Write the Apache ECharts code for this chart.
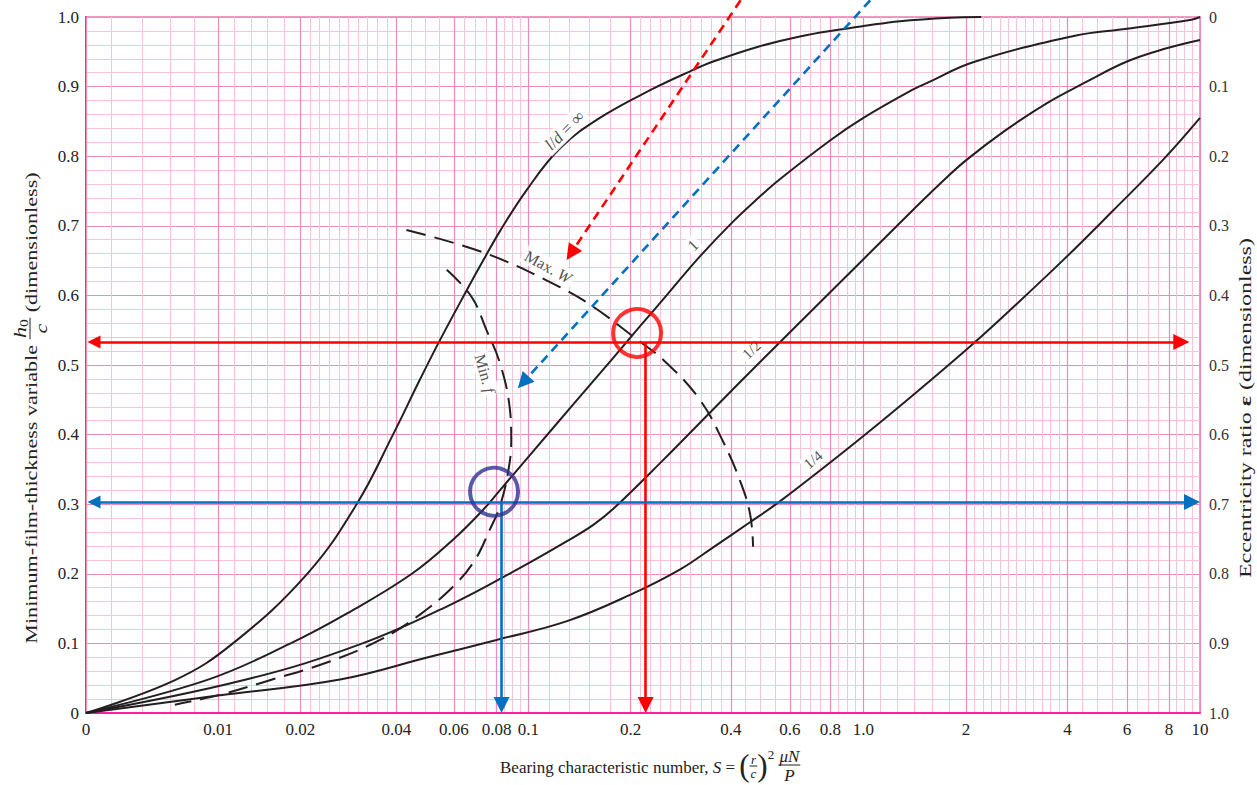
<!DOCTYPE html>
<html><head><meta charset="utf-8">
<script src="https://cdn.jsdelivr.net/npm/echarts@6/dist/echarts.min.js"></script>
<style>html,body{margin:0;padding:0;background:#fff}#c{width:1257px;height:785px}</style>
</head><body><div id="c"></div>
<script>
// ---------- X axis (Raimondi–Boyd style log-like scale) ----------
const X_TICK_S = [0,0.01,0.02,0.04,0.06,0.08,0.1,0.2,0.4,0.6,0.8,1,2,4,6,8,10];
const X_TICK_LABELS = ['0','0.01','0.02','0.04','0.06','0.08','0.1','0.2','0.4','0.6','0.8','1.0','2','4','6','8','10'];
const SCALE_S   = [0,0.002,0.004,0.006,0.008,0.01,0.02,0.04,0.06,0.08,0.1,0.2,0.4,0.6,0.8,1,2,4,6,8,10];
const SCALE_POS = [0,25.4,56.0,84.0,108.0,132.0,214.4,310.4,367.7,410.4,442.2,544.4,644.7,703.7,744.2,777.2,879.7,981.2,1040.7,1082.7,1113.7];
const GRID_DIV  = [1,1,1,1,1,5,10,4,4,4,5,10,4,4,4,6,12,4,4,4];

// ---------- Y ticks ----------
const Y_MIN = 0, Y_MAX = 1, Y_STEP = 0.1;

// ---------- Curves (S, h0/c) ----------
const INF_S = [0,0.0065,0.0118,0.021,0.030,0.039,0.0471,0.0543,0.0654,0.0731,0.0819,0.0987,0.1238,0.1624,0.2338,0.302,0.354,0.48,0.644,0.853,1.0,1.28,1.8,2.22];
const INF_H = [0,0.048,0.1,0.2,0.3,0.4,0.478,0.535,0.607,0.650,0.692,0.751,0.811,0.855,0.897,0.922,0.936,0.957,0.972,0.982,0.987,0.994,0.999,1.0];

const ONE_S = [0,0.00917,0.0188,0.028,0.0446,0.06,0.0731,0.0819,0.1033,0.1354,0.1776,0.213,0.2565,0.323,0.406,0.488,0.56,0.8,1.0,1.401,1.55,2.1,4.21,6.0,9.4,10];
const ONE_H = [0,0.048,0.1,0.143,0.2,0.25,0.292,0.320,0.376,0.443,0.510,0.555,0.600,0.656,0.706,0.742,0.767,0.823,0.855,0.896,0.906,0.935,0.973,0.983,0.996,1.0];

const HALF_S = [0,0.0134,0.0313,0.06,0.0923,0.13,0.155,0.1776,0.25,0.35,0.5,0.7,1.0,1.4,1.7,2.0,2.6,3.47,4.56,6.0,7.87,10];
const HALF_H = [0,0.048,0.1,0.158,0.206,0.247,0.270,0.293,0.363,0.434,0.509,0.578,0.652,0.723,0.763,0.794,0.836,0.876,0.907,0.936,0.955,0.967];

const QUARTER_S = [0,0.01,0.0266,0.05,0.08,0.13,0.2,0.281,0.354,0.456,0.56,0.76,1.0,1.4,2.06,2.76,3.89,5.46,7.69,10];
const QUARTER_H = [0,0.025,0.048,0.08,0.105,0.132,0.17,0.206,0.238,0.274,0.304,0.352,0.398,0.457,0.527,0.583,0.651,0.722,0.795,0.855];

const MAXW_S = [0.0429,0.0748,0.1238,0.155,0.2036,0.2565,0.323,0.379,0.425,0.456,0.466];
const MAXW_H = [0.694,0.660,0.612,0.584,0.541,0.503,0.45,0.39,0.335,0.287,0.239];

const MINF_S = [0.0571,0.0676,0.0748,0.0819,0.0877,0.0887,0.0867,0.0819,0.0764,0.0692,0.0604,0.0471,0.0355,0.0247,0.0157,0.0102,0.0064];
const MINF_H = [0.637,0.598,0.55,0.503,0.44,0.392,0.345,0.297,0.263,0.22,0.184,0.141,0.105,0.074,0.045,0.026,0.012];

// ---------- Curve labels ----------
const LABEL_TEXT = ['{i|l}/{i|d} = ∞','1','1/2','1/4','Max. {i|W}','Min. {i|f}'];
const LABEL_S = [0.128,0.308,0.461,0.708,0.1144,0.074];
const LABEL_H = [0.837,0.672,0.522,0.364,0.641,0.488];

// ---------- Worked-example overlay ----------
const RED_LINE_H = 0.533, RED_LINE_S = [0, 9.26], RED_DROP_S = 0.222;
const BLUE_LINE_H = 0.303, BLUE_LINE_S = [0, 10], BLUE_DROP_S = 0.0829;
const RED_POINT = [0.2093, 0.546];
const BLUE_POINT = [0.0787, 0.318];
const RED_GUIDE = [[0.4276, 1.024], [0.1296, 0.651]];
const BLUE_GUIDE = [[1.047, 1.024], [0.0929, 0.4666]];

// ---------- styles ----------
const LABEL_ROT = [45,45,43,40,-29,-74];
const LABEL_SIZE = [17,16,15,15,16,16];

// ---------- scale mapping ----------
function sToU(s){
  if (s <= 0) return 0;
  for (let i = 0; i < SCALE_S.length - 1; i++){
    const a = SCALE_S[i], b = SCALE_S[i+1];
    if (s <= b || i === SCALE_S.length - 2){
      const t = (a >= 0.02) ? Math.log(s/a)/Math.log(b/a) : (s-a)/(b-a);
      return SCALE_POS[i] + t*(SCALE_POS[i+1]-SCALE_POS[i]);
    }
  }
}
const U_MAX = SCALE_POS[SCALE_POS.length-1];
const MAJOR_U = X_TICK_S.map(sToU);
const MINOR_U = [];
for (let i = 0; i < SCALE_S.length - 1; i++){
  const a = SCALE_POS[i], b = SCALE_POS[i+1];
  if (i > 0 && MAJOR_U.every(m => Math.abs(m - a) > 0.01)) MINOR_U.push(a);
  for (let k = 1; k < GRID_DIV[i]; k++) MINOR_U.push(a + (b-a)*k/GRID_DIV[i]);
}
const pts = (S, H) => S.map((s, i) => [sToU(s), H[i]]);

// ---------- text layout helpers for titles ----------
const FONT = '"Liberation Serif", "Times New Roman", serif';
const ctx = document.createElement('canvas').getContext('2d');
function fstr(s){ return (s.style||'normal') + ' normal ' + (s.weight||'normal') + ' ' + s.size + 'px ' + FONT; }
function tw(s){ ctx.font = fstr(s); return ctx.measureText(s.t).width; }
function runW(run){ return run.reduce((a, s) => a + tw(s), 0); }
function emitRun(run, x, y, out, color){
  run.forEach(s => {
    out.push({type:'text', x: x, y: y + (s.dy||0), silent:true,
      style:{text:s.t, font:fstr(s), fill:color, align:'left', verticalAlign:'middle', textAlign:'left', textVerticalAlign:'middle'}});
    x += tw(s);
  });
}
function buildLine(items, color){
  const out = []; let x = 0;
  items.forEach(it => {
    if (it.num){
      const wn = runW(it.num), wd = runW(it.den), w = Math.max(wn, wd) + 2;
      emitRun(it.num, x + (w-wn)/2, it.numY, out, color);
      emitRun(it.den, x + (w-wd)/2, it.denY, out, color);
      out.push({type:'line', silent:true, shape:{x1:x, y1:it.barY, x2:x+w, y2:it.barY}, style:{stroke:color, lineWidth:1}});
      x += w;
    } else { emitRun(it.run, x, 0, out, color); x += runW(it.run); }
  });
  return {out, width:x};
}
const TXT = '#222';
const bottomTitle = buildLine([
  {run:[{t:'Bearing characteristic number, ', size:17},{t:'S', size:17, style:'italic'},{t:' = ', size:17}]},
  {run:[{t:'(', size:31, dy:-2}]},
  {num:[{t:'r', size:13, style:'italic'}], den:[{t:'c', size:13, style:'italic'}], numY:-8, denY:6, barY:-1},
  {run:[{t:')', size:31, dy:-2}]},
  {run:[{t:'2', size:13, dy:-13},{t:' ', size:17}]},
  {num:[{t:'μN', size:17, style:'italic'}], den:[{t:'P', size:17, style:'italic'}], numY:-11, denY:8, barY:-2}
], TXT);
const leftTitle = buildLine([
  {run:[{t:'Minimum-film-thickness variable ', size:17}]},
  {num:[{t:'h', size:17, style:'italic'},{t:'0', size:12, dy:4}], den:[{t:'c', size:17, style:'italic'}], numY:-11, denY:10, barY:-1},
  {run:[{t:' (dimensionless)', size:17}]}
], TXT);
const rightTitle = buildLine([
  {run:[{t:'Eccentricity ratio ', size:16},{t:'ε', size:16, weight:'bold'},{t:' (dimensionless)', size:16}]}
], TXT);
function centered(t){ t.out.forEach(e => { if (e.type === 'text') e.x -= t.width/2; else { e.shape.x1 -= t.width/2; e.shape.x2 -= t.width/2; } }); return t.out; }

// ---------- chart ----------
const chart = echarts.init(document.getElementById('c'), null, {renderer:'svg'});
const GRID_H_PX = 785 - 17 - 72;
const MAJOR_GRID = '#f08ab8', MINOR_GRID = '#f9c4da', AXIS_PINK = '#ff1f9b';
const curveStyle = {color:'#231f20', width:2};
function curve(name, S, H, dashed){
  return {type:'line', name, data:pts(S,H), showSymbol:false, symbol:'none', smooth:0.4, silent:true, z:3,
    lineStyle: dashed ? Object.assign({}, curveStyle, {type:[20,9]}) : curveStyle};
}
// trims the end(s) of a segment so an arrow head's tip lands on the given point
function arrowCoords(p0, p1, t0, t1){
  const a = [sToU(p0[0]), p0[1]*GRID_H_PX], b = [sToU(p1[0]), p1[1]*GRID_H_PX];
  const dx = b[0]-a[0], dy = b[1]-a[1], L = Math.hypot(dx, dy), ux = dx/L, uy = dy/L;
  return [[a[0]+ux*t0, (a[1]+uy*t0)/GRID_H_PX], [b[0]-ux*t1, (b[1]-uy*t1)/GRID_H_PX]];
}
const HEAD = 16;
function arrow(name, p0, p1, color, both, dashed){
  return {type:'lines', name, coordinateSystem:'cartesian2d', xAxisIndex:0, yAxisIndex:0, clip:false, silent:true, z:5,
    symbol: both ? ['triangle','triangle'] : ['none','triangle'], symbolSize:[13,HEAD],
    lineStyle:{color, width:2.6, opacity:1, type: dashed ? [9,6] : 'solid', curveness:0},
    itemStyle:{color},
    data:[{coords: arrowCoords(p0, p1, both ? HEAD/2 : 0, HEAD/2)}]};
}
const yFmt = v => (Math.abs(v) < 1e-9 ? '0' : v.toFixed(1));

const option = {
  animation:false,
  backgroundColor:'#fff',
  textStyle:{fontFamily:FONT},
  grid:{left:86, right:57, top:17, bottom:72, show:true, borderColor:'#f07ab0', borderWidth:1.5, backgroundColor:'transparent'},
  xAxis:[
    {type:'value', min:0, max:U_MAX, position:'bottom',
      axisLine:{show:true, onZero:false, lineStyle:{color:AXIS_PINK, width:2}},
      axisTick:{show:false, customValues:MAJOR_U},
      axisLabel:{customValues:MAJOR_U, margin:8, color:'#222', fontSize:17, fontFamily:FONT,
        formatter: v => { const i = MAJOR_U.findIndex(m => Math.abs(m - v) < 0.01); return i >= 0 ? X_TICK_LABELS[i] : ''; }},
      splitLine:{show:true, lineStyle:{color:MAJOR_GRID, width:1.2}}, z:2},
    {type:'value', min:0, max:U_MAX, position:'top',
      axisLine:{show:false}, axisLabel:{show:false},
      axisTick:{show:false, customValues:MINOR_U},
      splitLine:{show:true, lineStyle:{color:MINOR_GRID, width:1}}, z:1}
  ],
  yAxis:[
    {type:'value', min:Y_MIN, max:Y_MAX, interval:Y_STEP, position:'left',
      axisLine:{show:true, onZero:false, lineStyle:{color:AXIS_PINK, width:2}},
      axisTick:{show:false},
      axisLabel:{formatter:yFmt, margin:7, color:'#222', fontSize:17, fontFamily:FONT},
      splitLine:{show:true, lineStyle:{color:MAJOR_GRID, width:1.2}},
      minorTick:{show:false, splitNumber:5},
      minorSplitLine:{show:true, lineStyle:{color:MINOR_GRID, width:1}}},
    {type:'value', min:Y_MIN, max:Y_MAX, interval:Y_STEP, position:'right', inverse:true,
      axisLine:{show:false}, axisTick:{show:false}, splitLine:{show:false},
      axisLabel:{formatter:yFmt, margin:9, color:'#333', fontSize:16, fontFamily:FONT}}
  ],
  series:[
    curve('l/d = ∞', INF_S, INF_H),
    curve('1', ONE_S, ONE_H),
    curve('1/2', HALF_S, HALF_H),
    curve('1/4', QUARTER_S, QUARTER_H),
    curve('Max. W', MAXW_S, MAXW_H, true),
    curve('Min. f', MINF_S, MINF_H, true),
    {type:'scatter', name:'labels', silent:true, z:4, symbolSize:1, itemStyle:{color:'rgba(0,0,0,0)'},
      label:{show:true, position:'inside', color:'#222', fontFamily:FONT, backgroundColor:'#fff', padding:[1,3]},
      data: LABEL_TEXT.map((t, i) => ({value:[sToU(LABEL_S[i]), LABEL_H[i]],
        label:{formatter:t, rotate:LABEL_ROT[i], fontSize:LABEL_SIZE[i],
          rich:{i:{fontStyle:'italic', fontSize:LABEL_SIZE[i], fontFamily:FONT, color:'#222'}}}}))},
    arrow('red level', [RED_LINE_S[0], RED_LINE_H], [RED_LINE_S[1], RED_LINE_H], '#ff0000', true),
    arrow('red drop', [RED_DROP_S, RED_LINE_H], [RED_DROP_S, 0], '#ff0000', false),
    arrow('blue level', [BLUE_LINE_S[0], BLUE_LINE_H], [BLUE_LINE_S[1], BLUE_LINE_H], '#0070c0', true),
    arrow('blue drop', [BLUE_DROP_S, BLUE_LINE_H], [BLUE_DROP_S, 0], '#0070c0', false),
    arrow('red guide', RED_GUIDE[0], RED_GUIDE[1], '#ff0000', false, true),
    arrow('blue guide', BLUE_GUIDE[0], BLUE_GUIDE[1], '#0070c0', false, true),
    {type:'scatter', name:'red point', silent:true, z:6, symbol:'circle', symbolSize:48,
      itemStyle:{color:'rgba(0,0,0,0)', borderColor:'#ff0000', borderWidth:4},
      data:[[sToU(RED_POINT[0]), RED_POINT[1]]]},
    {type:'scatter', name:'blue point', silent:true, z:6, symbol:'circle', symbolSize:48,
      itemStyle:{color:'rgba(0,0,0,0)', borderColor:'#2e3192', borderWidth:4},
      data:[[sToU(BLUE_POINT[0]), BLUE_POINT[1]]]}
  ],
  graphic:[
    {type:'group', x:500 + bottomTitle.width/2, y:767, children:centered(bottomTitle)},
    {type:'group', x:31, y:408, rotation:Math.PI/2, scaleX:1.3, children:centered(leftTitle)},
    {type:'group', x:1246, y:408, rotation:Math.PI/2, scaleX:1.5, children:centered(rightTitle)}
  ]
};
chart.setOption(option);
</script>
</body></html>
